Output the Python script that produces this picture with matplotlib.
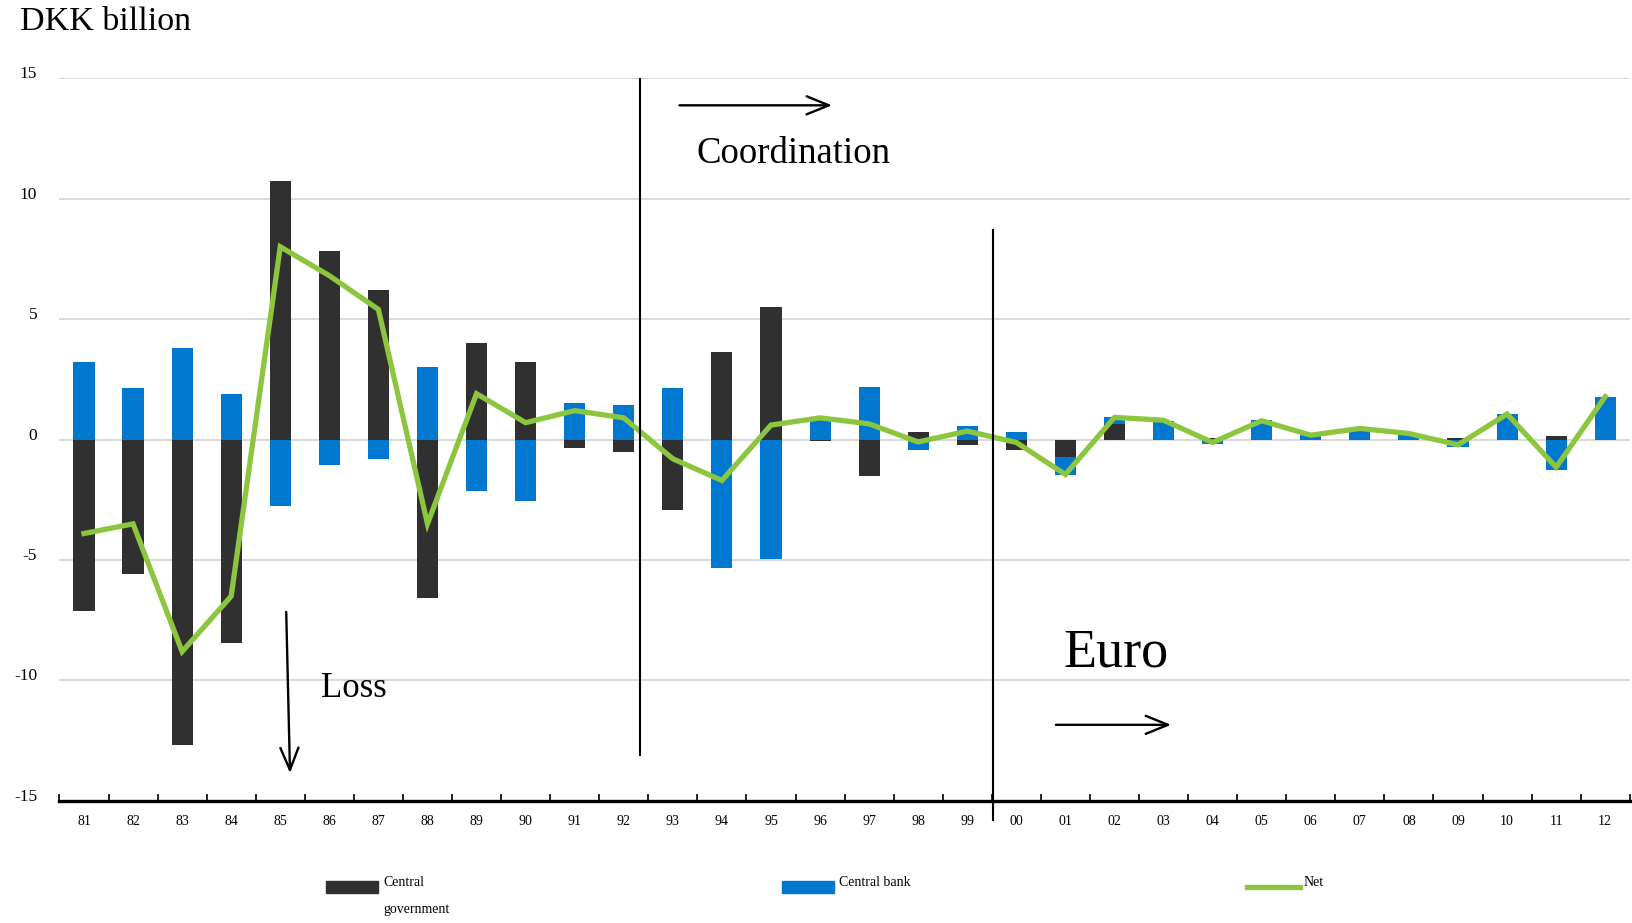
import matplotlib
matplotlib.use("Agg")
import matplotlib.pyplot as plt
import numpy as np
from matplotlib.patches import Rectangle
from matplotlib.lines import Line2D

plt.rcParams["font.family"] = ["Liberation Serif", "DejaVu Serif"]

years = ["81", "82", "83", "84", "85", "86", "87", "88", "89", "90", "91", "92",
         "93", "94", "95", "96", "97", "98", "99", "00", "01", "02", "03", "04",
         "05", "06", "07", "08", "09", "10", "11", "12"]
central_gov = [-7.13, -5.6, -12.66, -8.43, 10.72, 7.82, 6.22, -6.57, 4.02, 3.2, -0.35, -0.52,
               -2.93, 3.62, 5.51, -0.05, -1.53, 0.33, -0.24, -0.43, -0.72, 0.64, 0.0, 0.08,
               0.0, -0.04, 0.0, 0.0, 0.08, 0.0, 0.14, 0.0]
central_bank = [3.2, 2.12, 3.8, 1.9, -2.77, -1.04, -0.82, 3.02, -2.12, -2.55, 1.51, 1.43,
                2.14, -5.34, -4.95, 0.82, 2.16, -0.43, 0.58, 0.32, -0.75, 0.28, 0.75, -0.19,
                0.8, 0.24, 0.47, 0.25, -0.3, 1.07, -1.27, 1.76]
net = [-3.9, -3.5, -8.8, -6.5, 8.0, 6.8, 5.4, -3.5, 1.9, 0.7, 1.2, 0.9,
       -0.8, -1.7, 0.6, 0.9, 0.65, -0.1, 0.35, -0.12, -1.45, 0.92, 0.8, -0.12,
       0.78, 0.18, 0.46, 0.25, -0.22, 1.06, -1.15, 1.78]

dark = "#303030"
blue = "#0078CF"
green = "#8CC63F"

fig = plt.figure(figsize=(16.33, 9.23), dpi=100)
ax = fig.add_axes([0.0364, 0.1322, 0.9616, 0.7832])

x = np.arange(len(years))
cg = np.array(central_gov)
cb = np.array(central_bank)
# diverging stack: each series stacked away from zero on its own sign
cg_base = np.zeros(len(x))
cb_base = np.where(np.sign(cb) == np.sign(cg), cg, 0.0)

w = 0.43
ax.bar(x, cg, w, bottom=cg_base, color=dark, zorder=2)
ax.bar(x, cb, w, bottom=cb_base, color=blue, zorder=2)
ax.plot(x, net, color=green, lw=3.8, zorder=4, solid_joinstyle="miter")

ax.set_xlim(-0.5, len(years) - 0.5)
ax.set_ylim(-15, 15)
ax.set_yticks([-15, -10, -5, 0, 5, 10, 15])
ax.set_yticklabels(["-15", "-10", "-5", "0", "5", "10", "15"], fontsize=12.5)
ax.set_xticks(x)
ax.set_xticklabels(years, fontsize=10)
ax.set_xticks(np.arange(-0.5, len(years)), minor=True)
ax.tick_params(axis="x", which="major", length=0, pad=10)
ax.tick_params(axis="x", which="minor", direction="in", length=5, width=1.2)
ax.tick_params(axis="y", length=0, pad=16)
for lab in ax.get_yticklabels():
    lab.set_verticalalignment("baseline")

ax.grid(axis="y", color="#D0D0D0", lw=1.1, zorder=0)
ax.set_axisbelow(True)
for s in ["top", "right", "left"]:
    ax.spines[s].set_visible(False)
ax.spines["bottom"].set_linewidth(2.4)
ax.spines["bottom"].set_color("black")

# regime lines
ax.plot([11.33, 11.33], [15, -13.1], color="black", lw=1.5, zorder=5)
ax.plot([18.52, 18.52], [8.7, -15.8], color="black", lw=1.5, zorder=5, clip_on=False)

arrow = dict(arrowstyle="->,head_length=1.6,head_width=0.65", color="black", lw=1.7)
ax.annotate("", xy=(15.3, 13.87), xytext=(12.08, 13.87), arrowprops=arrow)
ax.text(12.48, 11.84, "Coordination", fontsize=26.5, va="center", ha="left")
ax.annotate("", xy=(4.2, -13.96), xytext=(4.12, -7.04), arrowprops=arrow)
ax.text(4.82, -10.33, "Loss", fontsize=25, va="center", ha="left")
ax.annotate("", xy=(22.21, -11.84), xytext=(19.75, -11.84), arrowprops=arrow)
ax.text(19.95, -8.86, "Euro", fontsize=39, va="center", ha="left")

fig.text(20 / 1633, 1 - 22 / 923, "DKK billion", fontsize=24.5, va="center", ha="left")

# legend along the bottom
W, H = 1633, 923
fig.patches.append(Rectangle((326 / W, 1 - 893 / H), 52 / W, 12 / H,
                             transform=fig.transFigure, color=dark))
fig.text(383 / W, 1 - 882 / H, "Central", fontsize=10, va="center")
fig.text(383 / W, 1 - 909 / H, "government", fontsize=10, va="center")
fig.patches.append(Rectangle((782 / W, 1 - 893 / H), 52 / W, 12 / H,
                             transform=fig.transFigure, color=blue))
fig.text(839 / W, 1 - 882 / H, "Central bank", fontsize=10, va="center")
fig.lines.append(Line2D([1247 / W, 1300 / W], [1 - 887 / H, 1 - 887 / H],
                        transform=fig.transFigure, color=green, lw=3.8))
fig.text(1304 / W, 1 - 882 / H, "Net", fontsize=10, va="center")

fig.savefig("out.png", dpi=100)
